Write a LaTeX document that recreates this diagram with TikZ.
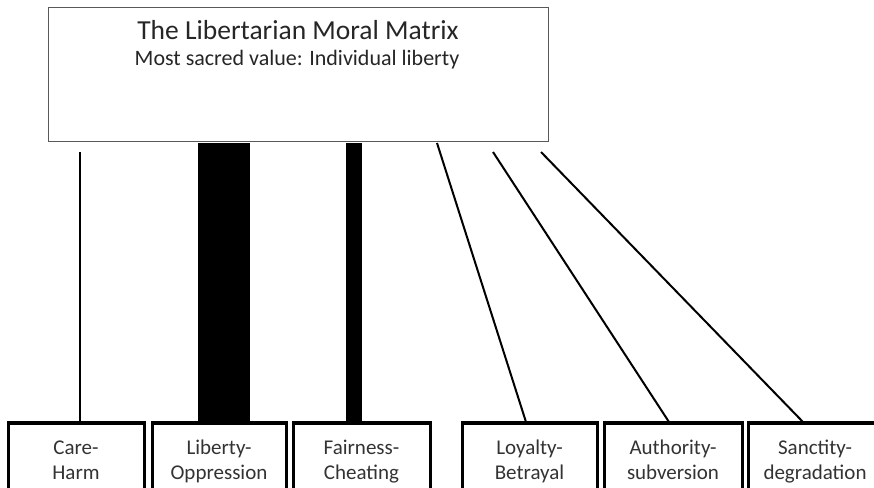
\documentclass[tikz,border=0pt]{standalone}
\usepackage{fontspec}
\setmainfont{Carlito}
\begin{document}
\begin{tikzpicture}[x=1pt,y=-1pt,
  fbox/.style={draw=black,line width=3pt,fill=white,minimum width=#1,minimum height=80pt,inner sep=0pt,anchor=north},
  lbl/.style={font=\fontsize{21}{26}\selectfont,align=center,text=black!80},
  conn/.style={line width=2pt,line cap=butt}]
\useasboundingbox (0,0) rectangle (874,487);
\clip (0,0) rectangle (874,487);
\fill[white] (0,0) rectangle (874,487);
% top box
\node[draw=black!65,line width=1pt,minimum width=500pt,minimum height=133pt,inner sep=0pt,anchor=north west] (top) at (48,7.5) {};
\node[anchor=base,font=\fontsize{27.5}{32}\selectfont,text=black!85] (title) at (298,40) {The Libertarian Moral Matrix};
\node[anchor=base,font=\fontsize{22}{26}\selectfont,text=black!85] (sub) at (297,65) {Most sacred value: Individual liberty};
% connector start points
\coordinate (s1) at (80,152);
\coordinate (s2) at (224,143);
\coordinate (s3) at (354,143);
\coordinate (s4) at (437,143);
\coordinate (s5) at (493,152);
\coordinate (s6) at (541,152);
% foundation boxes
\node[fbox=136pt] (care) at (76,422) {};
\node[fbox=134pt] (lib) at (219,422) {};
\node[fbox=137pt] (fair) at (361.5,422) {};
\node[fbox=135pt] (loy) at (529.5,422) {};
\node[fbox=138pt] (auth) at (673,422) {};
\node[fbox=137pt] (sanc) at (816.5,422) {};
% connectors
\draw[conn] (s1) -- (s1 |- care.north);
\draw[line width=52pt,line cap=butt] (s2) -- (s2 |- lib.north);
\draw[line width=16pt,line cap=butt] (s3) -- (s3 |- fair.north);
\draw[conn] (s4) -- ([xshift=-3.5pt]loy.north);
\draw[conn] (s5) -- ([xshift=-4pt]auth.north);
\draw[conn] (s6) -- ([xshift=-13.5pt]sanc.north);
% redraw box tops over the connectors
\foreach \w/\x in {136/76,134/219,137/361.5,135/529.5,138/673,137/816.5}{
  \draw[line width=3pt] (\x-\w/2,500) -- (\x-\w/2,422) -- (\x+\w/2,422) -- (\x+\w/2,500);
}
% labels
\node[lbl,anchor=base] (t1) at (76,454) {Care-};
\node[lbl,anchor=base] (b1) at (76,479) {Harm};
\node[lbl,anchor=base] (t2) at (219,454) {Liberty-};
\node[lbl,anchor=base] (b2) at (219,479) {Oppression};
\node[lbl,anchor=base] (t3) at (361.5,454) {Fairness-};
\node[lbl,anchor=base] (b3) at (361.5,479) {Cheating};
\node[lbl,anchor=base] (t4) at (529.5,454) {Loyalty-};
\node[lbl,anchor=base] (b4) at (529.5,479) {Betrayal};
\node[lbl,anchor=base] (t5) at (673,454) {Authority-};
\node[lbl,anchor=base] (b5) at (673,479) {subversion};
\node[lbl,anchor=base] (t6) at (815,454) {Sanctity-};
\node[lbl,anchor=base] (b6) at (815,479) {degradation};
\end{tikzpicture}
\end{document}
